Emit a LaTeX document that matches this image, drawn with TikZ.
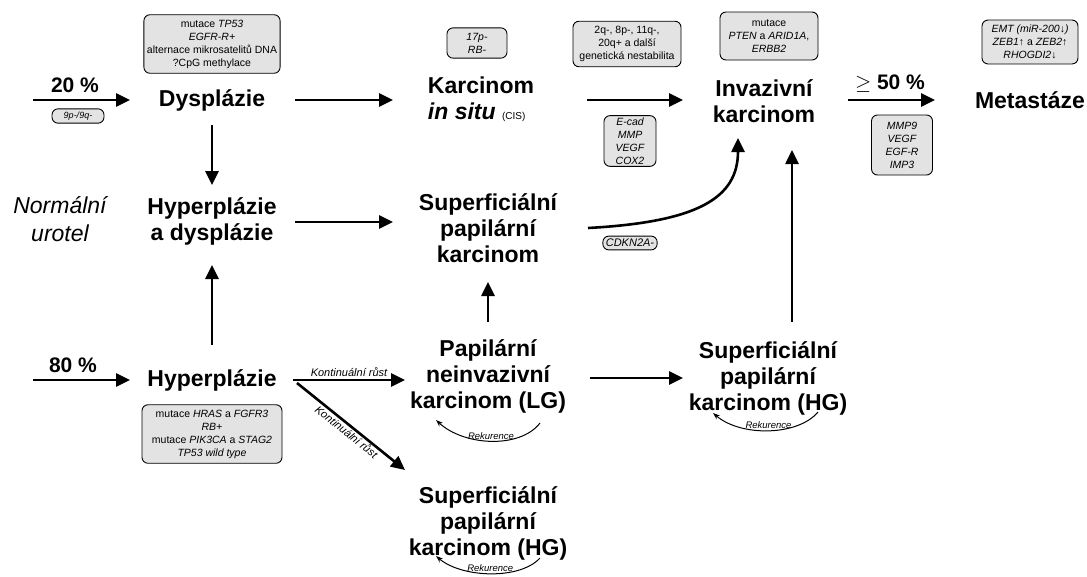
\documentclass[tikz,border=0pt]{standalone}
\usepackage{fontspec}
\setmainfont{Liberation Sans}
\usetikzlibrary{arrows.meta,positioning}

\begin{document}
\begin{tikzpicture}[x=1pt,y=-1pt,->,>={Triangle[length=14pt,width=13pt]},line width=2.6pt,
    stage/.style={font=\fontsize{23}{26}\selectfont\bfseries,align=center,inner sep=2pt},
    pct/.style={font=\fontsize{21}{24}\selectfont\bfseries},
    gene/.style={draw,line width=0.9pt,rounded corners=6pt,fill=black!11,align=center,
        font=\fontsize{10.5}{13}\selectfont,inner xsep=3pt,inner ysep=5pt},
    igene/.style={gene,font=\fontsize{10.5}{13}\selectfont\itshape},
    growth/.style={font=\fontsize{11}{13}\selectfont\itshape,inner sep=2pt},
    rek/.style={line width=1pt,>={Stealth[length=7pt,width=5pt]}},
    reklabel/.style={font=\fontsize{9.5}{11}\selectfont\itshape,inner sep=1pt}]
        \useasboundingbox (0,0) rectangle (1087,576);

        % stages
        \node[stage] (dys) at (212,100)
            {Dysplázie};

        \node[stage,align=left] (cis) at (481,99)
            {Karcinom\\\textit{in situ} {\fontsize{10}{12}\selectfont\mdseries (CIS)}};

        \node[stage] (inv) at (764,101)
            {Invazivní\\karcinom};

        \node[stage] (meta) at (1030,100)
            {Metastáze};

        \node[font=\fontsize{23}{28}\selectfont\itshape,align=center] (norm) at (60,219)
            {Normální\\urotel};

        \node[stage] (hd) at (212,221)
            {Hyperplázie\\a dysplázie};

        \node[stage] (spk) at (488,228)
            {Superficiální\\papilární\\karcinom};

        \node[stage] (hyp) at (212,380)
            {Hyperplázie};

        \node[stage] (lg) at (488,376)
            {Papilární\\neinvazivní\\karcinom (LG)};

        \node[stage] (hgr) at (768,378)
            {Superficiální\\papilární\\karcinom (HG)};

        \node[stage] (hgb) at (488,523)
            {Superficiální\\papilární\\karcinom (HG)};

        % percentages
        \coordinate (s20) at (33,100);
        \coordinate (s80) at (33,380);

        \node[pct] (p20) at (75,85) {20 \%};
        \node[pct] (p80) at (73,365) {80 \%};
        \node[pct] (p50) at (890,84) {$\geq$ 50 \%};

        % genetic changes
        \node[igene,font=\fontsize{9}{10}\selectfont\itshape,inner ysep=3pt,minimum width=52pt] (b9p) at (78,116)
            {9p-/9q-};

        \node[gene] (btp) at (212,44)
            {mutace \textit{TP53}\\\textit{EGFR-R+}\\alternace mikrosatelitů DNA\\?CpG methylace};

        \node[igene,minimum width=60pt,minimum height=30pt] (b17) at (477,43)
            {17p-\\RB-};

        \node[gene,minimum width=108pt] (b2q) at (627,44)
            {2q-, 8p-, 11q-,\\20q+ a další\\genetická nestabilita};

        \node[gene,minimum width=98pt,minimum height=48pt] (bpten) at (769,36)
            {mutace\\\textit{PTEN} a \textit{ARID1A},\\\textit{ERBB2}};

        \node[gene,minimum width=96pt] (bemt) at (1030,42)
            {\textit{EMT (miR-200}↓\textit{)}\\\textit{ZEB1}↑ a \textit{ZEB2}↑\\\textit{RHOGDI2}↓};

        \node[igene,minimum width=52pt,inner ysep=2pt] (becad) at (630,141)
            {E-cad\\MMP\\VEGF\\COX2};

        \node[igene,minimum width=61pt,minimum height=60pt] (bmmp) at (902,145)
            {MMP9\\VEGF\\EGF-R\\IMP3};

        \node[igene,font=\fontsize{11}{13}\selectfont\itshape,inner ysep=3pt,minimum width=53pt] (bcdkn) at (630,243)
            {CDKN2A-};

        \node[gene,minimum width=140pt] (bhras) at (212,434)
            {mutace \textit{HRAS} a \textit{FGFR3}\\\textit{RB+}\\mutace \textit{PIK3CA} a \textit{STAG2}\\\textit{TP53 wild type}};

        % progression
        \draw (s20) -- ([xshift=-82pt]dys.center);
        \draw ([xshift=83pt]dys.center) -- ([xshift=-88pt,yshift=-1pt]cis.center);
        \draw ([xshift=106pt,yshift=-1pt]cis.center) -- ([xshift=-81pt,yshift=1pt]inv.center);
        \draw ([xshift=84pt,yshift=1pt]inv.center) -- ([xshift=-95pt]meta.center);
        \draw ([yshift=-25pt]dys.center) -- ([yshift=36pt]hd.center);
        \draw ([xshift=83pt,yshift=-1pt]hd.center) -- ([xshift=-95pt,yshift=6pt]spk.center);
        \draw ([xshift=100pt]spk.center)
            .. controls +(110,-6) and +(0,60) .. ([xshift=-26pt,yshift=-37pt]inv.center);
        \draw ([yshift=35pt]hyp.center) -- ([yshift=-44pt]hd.center);
        \draw (s80) -- ([xshift=-82pt]hyp.center);
        \draw ([xshift=81pt]hyp.center) -- node[above,growth] {Kontinuální růst}
            ([xshift=-83pt,yshift=-4pt]lg.center);
        \draw ([xshift=85pt,yshift=-3pt]hyp.center) -- node[below,sloped,growth,inner sep=1pt] {Kontinuální růst}
            ([xshift=-83pt,yshift=53pt]hgb.center);
        \draw ([yshift=54pt]lg.center) -- ([yshift=-54pt]spk.center);
        \draw ([xshift=102pt,yshift=-2pt]lg.center) -- ([xshift=-85pt]hgr.center);
        \draw ([xshift=24pt,yshift=56pt]hgr.center) -- ([xshift=28pt,yshift=-49pt]inv.center);

        % recurrence
        \draw[rek] ([xshift=52pt,yshift=-47pt]lg.center)
            .. controls +(-20,26) and +(28,26) .. node[above,reklabel] {Rekurence}
            ([xshift=-52pt,yshift=-44pt]lg.center);
        \draw[rek] ([xshift=50pt,yshift=-34pt]hgr.center)
            .. controls +(-20,24) and +(28,24) .. node[above,reklabel] {Rekurence}
            ([xshift=-55pt,yshift=-35pt]hgr.center);
        \draw[rek] ([xshift=52pt,yshift=-35pt]hgb.center)
            .. controls +(-20,22) and +(26,22) .. node[above,reklabel] {Rekurence}
            ([xshift=-52pt,yshift=-33pt]hgb.center);
    \end{tikzpicture}
\end{document}
